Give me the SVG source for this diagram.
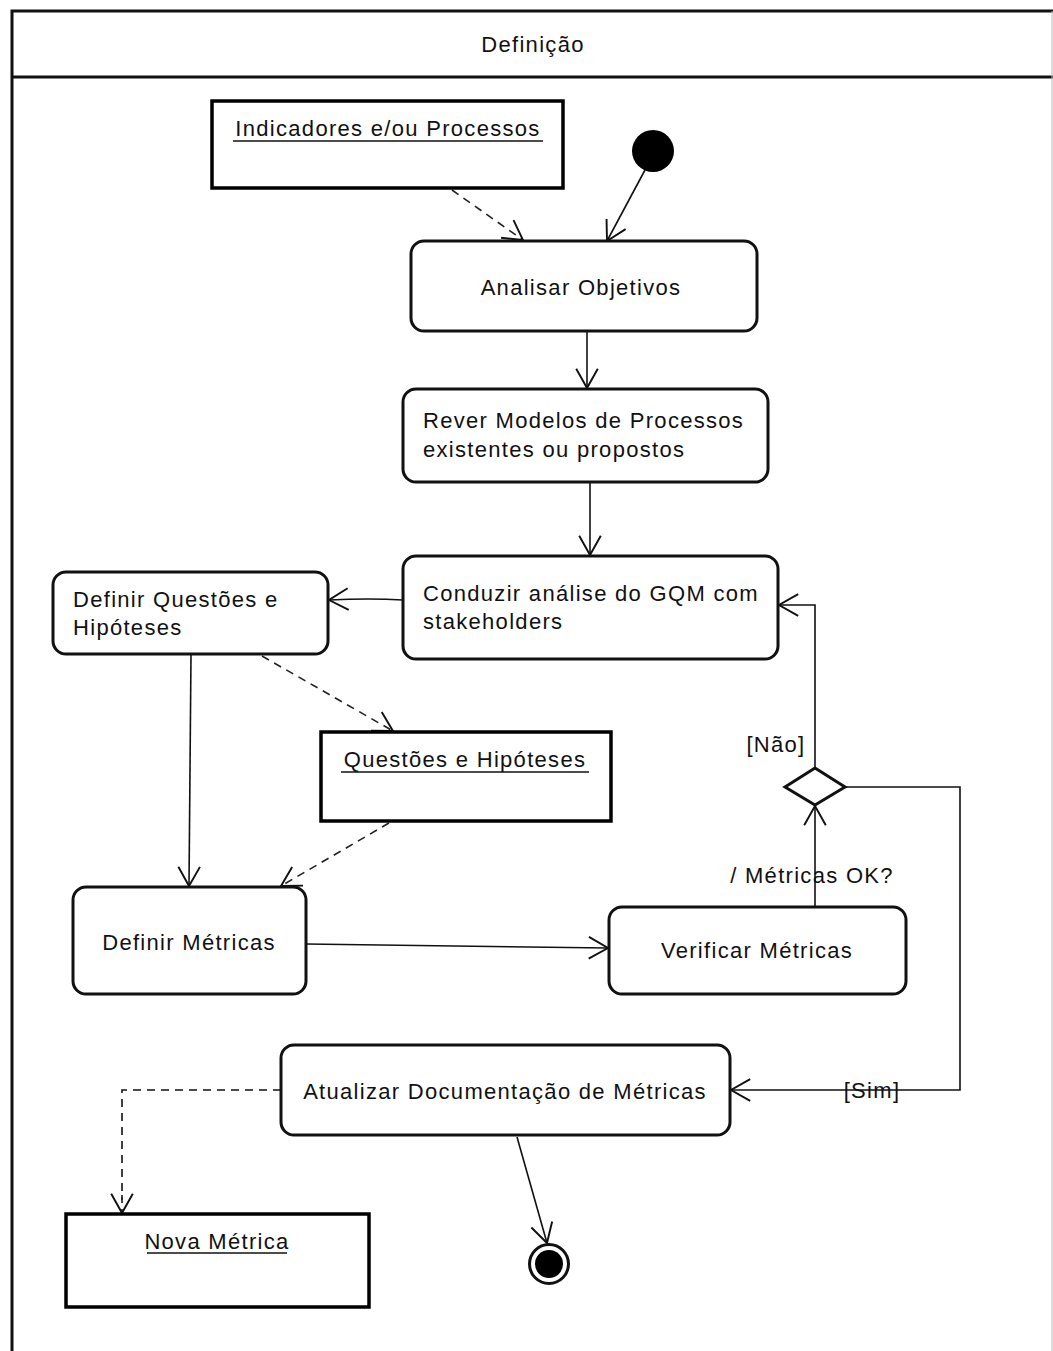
<svg xmlns="http://www.w3.org/2000/svg" width="1053" height="1351" viewBox="0 0 1053 1351">
  <style>
    text { font-family: "Liberation Sans", Arial, sans-serif; font-size: 22px; letter-spacing: 1.3px; fill: #111; }
    .mid { text-anchor: middle; }
    .act { fill: #fff; stroke: #111; stroke-width: 3; }
    .obj { fill: #fff; stroke: #000; stroke-width: 3.5; }
    .flow { fill: none; stroke: #111; stroke-width: 1.6; marker-end: url(#open); }
    .dep { fill: none; stroke: #222; stroke-width: 1.6; stroke-dasharray: 8 6; marker-end: url(#open); }
    .plain { fill: none; stroke: #111; stroke-width: 1.6; }
    .ul { stroke: #111; stroke-width: 1.5; }
  </style>
  <defs>
    <marker id="open" markerUnits="userSpaceOnUse" markerWidth="24" markerHeight="24" refX="18" refY="10" orient="auto" viewBox="0 0 20 20">
      <path d="M2,1 L18,10 L2,19" fill="none" stroke="#111" stroke-width="1.6"/>
    </marker>
  </defs>

  <rect width="1053" height="1351" fill="#fff"/>

  <!-- swimlane frame -->
  <g id="lane">
    <path d="M12,1351 V11 H1053" fill="none" stroke="#111" stroke-width="3"/>
    <line x1="12" y1="77" x2="1053" y2="77" stroke="#111" stroke-width="3"/>
    <line x1="1052" y1="11" x2="1052" y2="1351" stroke="#bbb" stroke-width="1"/>
    <text x="533" y="52" class="mid">Definição</text>
  </g>

  <!-- connectors -->
  <g id="connectors">
    <line class="dep" x1="452" y1="190" x2="523" y2="240"/>
    <line class="flow" x1="645" y1="170" x2="607" y2="241"/>
    <line class="flow" x1="587" y1="331" x2="587" y2="388"/>
    <line class="flow" x1="590" y1="482" x2="590" y2="555"/>
    <path class="flow" d="M403,600 Q370,598 329,600"/>
    <line class="dep" x1="262" y1="656" x2="393" y2="731"/>
    <line class="flow" x1="191" y1="654" x2="189" y2="886"/>
    <line class="dep" x1="389" y1="823" x2="281" y2="886"/>
    <line class="flow" x1="306" y1="944" x2="608" y2="948"/>
    <line class="flow" x1="815" y1="907" x2="815" y2="806"/>
    <path class="flow" d="M815,768 V605 H779"/>
    <path class="flow" d="M845,787 H960 V1090 H731"/>
    <path class="plain" d="M281,1090 H122 V1200" stroke-dasharray="8 6"/>
    <line class="dep" x1="122" y1="1195" x2="122" y2="1213"/>
    <line class="flow" x1="517" y1="1137" x2="547" y2="1243"/>
    <text x="776" y="752" class="mid">[Não]</text>
    <text x="812" y="883" class="mid">/ Métricas OK?</text>
    <text x="872" y="1098" class="mid">[Sim]</text>
  </g>

  <g id="indicadores">
    <rect class="obj" x="212" y="101" width="351" height="87"/>
    <text x="388" y="136" class="mid">Indicadores e/ou Processos</text>
    <line class="ul" x1="233" y1="141" x2="543" y2="141"/>
  </g>

  <g id="inicio">
    <circle cx="653" cy="151" r="21" fill="#000"/>
  </g>

  <g id="analisar">
    <rect class="act" x="411" y="241" width="346" height="90" rx="13"/>
    <text x="581" y="295" class="mid">Analisar Objetivos</text>
  </g>

  <g id="rever">
    <rect class="act" x="403" y="389" width="365" height="93" rx="13"/>
    <text x="423" y="428">Rever Modelos de Processos</text>
    <text x="423" y="457">existentes ou propostos</text>
  </g>

  <g id="conduzir">
    <rect class="act" x="403" y="556" width="375" height="103" rx="13"/>
    <text x="423" y="601">Conduzir análise do GQM com</text>
    <text x="423" y="629">stakeholders</text>
  </g>

  <g id="definir-questoes">
    <rect class="act" x="53" y="572" width="275" height="82" rx="13"/>
    <text x="73" y="607">Definir Questões e</text>
    <text x="73" y="635">Hipóteses</text>
  </g>

  <g id="questoes-hipoteses">
    <rect class="obj" x="321" y="732" width="290" height="89"/>
    <text x="465" y="767" class="mid">Questões e Hipóteses</text>
    <line class="ul" x1="341" y1="772" x2="589" y2="772"/>
  </g>

  <g id="definir-metricas">
    <rect class="act" x="73" y="887" width="233" height="107" rx="13"/>
    <text x="189" y="950" class="mid">Definir Métricas</text>
  </g>

  <g id="verificar">
    <rect class="act" x="609" y="907" width="297" height="87" rx="13"/>
    <text x="757" y="958" class="mid">Verificar Métricas</text>
  </g>

  <g id="decisao">
    <polygon points="785,787 815,768 845,787 815,805" fill="#fff" stroke="#111" stroke-width="3"/>
  </g>

  <g id="atualizar">
    <rect class="act" x="281" y="1045" width="449" height="90" rx="13"/>
    <text x="505" y="1099" class="mid">Atualizar Documentação de Métricas</text>
  </g>

  <g id="nova-metrica">
    <rect class="obj" x="66" y="1214" width="303" height="93"/>
    <text x="217" y="1249" class="mid">Nova Métrica</text>
    <line class="ul" x1="147" y1="1253" x2="287" y2="1253"/>
  </g>

  <g id="fim">
    <circle cx="549" cy="1264" r="19.5" fill="#fff" stroke="#111" stroke-width="3"/>
    <circle cx="549" cy="1264" r="14" fill="#000"/>
  </g>
</svg>
